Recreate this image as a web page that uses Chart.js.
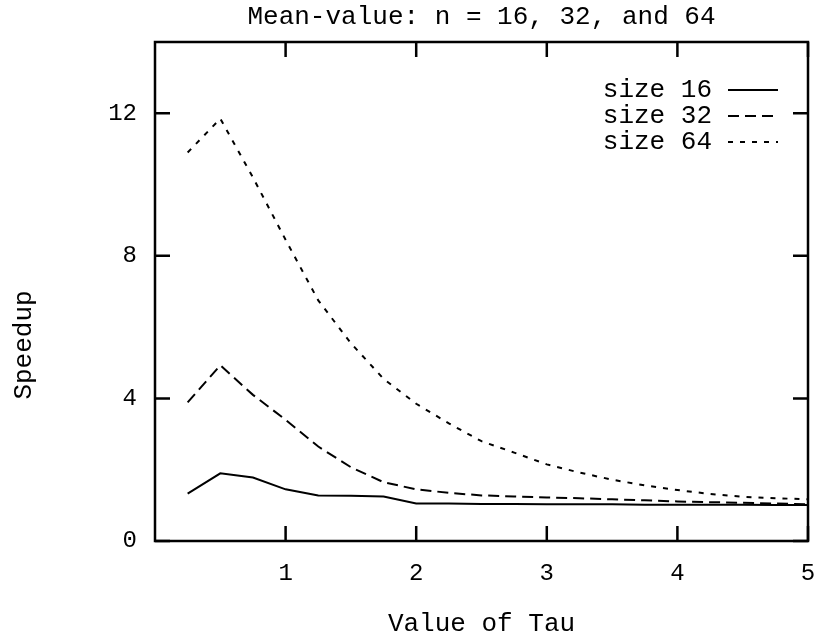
<!DOCTYPE html>
<html>
<head>
<meta charset="utf-8">
<title>Mean-value speedup</title>
<script src="https://cdn.jsdelivr.net/npm/chart.js@4.4.0/dist/chart.umd.min.js"></script>
<style>
  html, body { margin: 0; padding: 0; background: #fff; }
</style>
</head>
<body>
<canvas id="chart" width="814" height="636"></canvas>
<script>
// values
const tau = [0.25, 0.5, 0.75, 1, 1.25, 1.5, 1.75, 2, 2.25, 2.5, 2.75, 3, 3.25, 3.5, 3.75, 4, 4.25, 4.5, 4.75, 5];
const size16 = [1.33, 1.9, 1.78, 1.45, 1.28, 1.27, 1.25, 1.05, 1.05, 1.04, 1.04, 1.03, 1.03, 1.03, 1.02, 1.02, 1.02, 1.02, 1.01, 1.01];
const size32 = [3.89, 4.93, 4.1, 3.4, 2.65, 2.07, 1.65, 1.45, 1.35, 1.28, 1.25, 1.22, 1.2, 1.17, 1.14, 1.11, 1.09, 1.07, 1.05, 1.03];
const size64 = [10.9, 11.85, 10.2, 8.45, 6.75, 5.55, 4.55, 3.85, 3.3, 2.8, 2.48, 2.15, 1.92, 1.72, 1.56, 1.43, 1.32, 1.24, 1.2, 1.17];
const seriesNames = ['size 16', 'size 32', 'size 64'];
const seriesDash = [[], [11, 6], [5, 7]];
const xTicks = [1, 2, 3, 4, 5];
const yTicks = [0, 4, 8, 12];

const FONT = '"Liberation Mono", "Courier New", monospace';

const toPoints = ys => ys.map((y, i) => ({ x: tau[i], y: y }));

// gnuplot-ish frame, inward ticks, title, axis labels and key
const gnuplotLook = {
  id: 'gnuplotLook',
  afterDraw(chart) {
    const ctx = chart.ctx;
    const a = chart.chartArea;
    const xs = chart.scales.x, ys = chart.scales.y;
    const tickLen = 15;

    ctx.save();
    ctx.strokeStyle = '#000';
    ctx.lineWidth = 2.5;
    ctx.setLineDash([]);
    ctx.strokeRect(a.left, a.top, a.right - a.left, a.bottom - a.top);

    ctx.beginPath();
    xTicks.forEach(v => {
      const px = xs.getPixelForValue(v);
      ctx.moveTo(px, a.bottom); ctx.lineTo(px, a.bottom - tickLen);
      ctx.moveTo(px, a.top); ctx.lineTo(px, a.top + tickLen);
    });
    yTicks.forEach(v => {
      const py = ys.getPixelForValue(v);
      ctx.moveTo(a.left, py); ctx.lineTo(a.left + tickLen, py);
      ctx.moveTo(a.right, py); ctx.lineTo(a.right - tickLen, py);
    });
    ctx.stroke();

    ctx.fillStyle = '#000';
    ctx.font = '26px ' + FONT;
    ctx.textBaseline = 'middle';
    ctx.textAlign = 'center';
    const midX = (a.left + a.right) / 2;
    ctx.fillText('Mean-value: n = 16, 32, and 64', midX, 17);
    ctx.fillText('Value of Tau', midX, 624);

    ctx.save();
    ctx.translate(24, 345);
    ctx.rotate(-Math.PI / 2);
    ctx.fillText('Speedup', 0, 0);
    ctx.restore();

    // key
    const rowY = [90, 116, 142];
    chart.data.datasets.forEach((ds, i) => {
      ctx.textAlign = 'right';
      ctx.fillText(ds.label, 712, rowY[i]);
      ctx.beginPath();
      ctx.lineWidth = 2;
      ctx.setLineDash(ds.borderDash || []);
      ctx.moveTo(728, rowY[i]);
      ctx.lineTo(778, rowY[i]);
      ctx.stroke();
    });
    ctx.restore();
  }
};

const datasets = [size16, size32, size64].map((ys, i) => ({
  label: seriesNames[i],
  data: toPoints(ys),
  borderColor: '#000',
  borderWidth: 2,
  borderDash: seriesDash[i],
  pointRadius: 0,
  tension: 0,
  fill: false
}));

new Chart(document.getElementById('chart'), {
  type: 'line',
  data: { datasets: datasets },
  options: {
    responsive: false,
    animation: false,
    layout: { padding: { top: 42, right: 6, left: 0, bottom: 0 } },
    plugins: {
      legend: { display: false },
      title: { display: false },
      tooltip: { enabled: false }
    },
    scales: {
      x: {
        type: 'linear',
        min: 0,
        max: 5,
        afterBuildTicks: scale => { scale.ticks = xTicks.map(v => ({ value: v })); },
        afterFit: scale => { scale.height = 95; scale.paddingLeft = 0; scale.paddingRight = 0; },
        grid: { display: false, drawTicks: false },
        border: { display: false },
        ticks: { color: '#000', font: { family: FONT, size: 24 }, padding: 18, maxRotation: 0 }
      },
      y: {
        type: 'linear',
        min: 0,
        max: 14,
        afterBuildTicks: scale => { scale.ticks = yTicks.map(v => ({ value: v })); },
        afterFit: scale => { scale.width = 155; scale.paddingTop = 0; scale.paddingBottom = 0; },
        grid: { display: false, drawTicks: false },
        border: { display: false },
        ticks: { color: '#000', font: { family: FONT, size: 24 }, padding: 18 }
      }
    }
  },
  plugins: [gnuplotLook]
});
</script>
</body>
</html>
